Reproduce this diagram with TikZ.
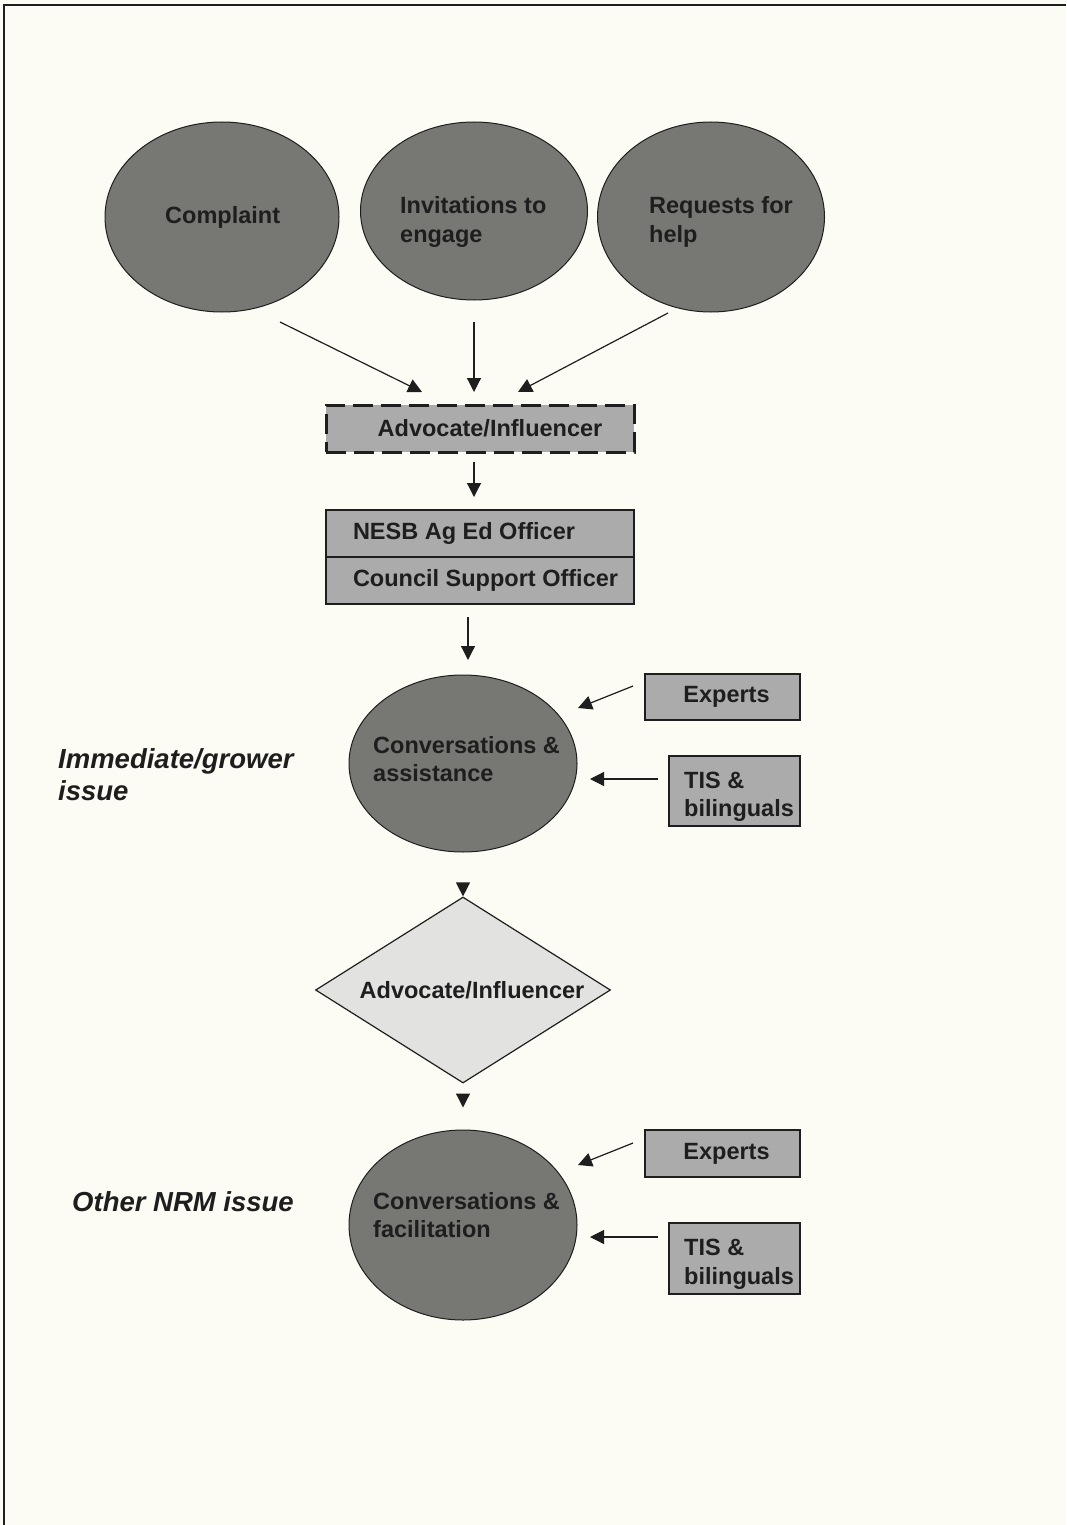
\documentclass[tikz,border=0pt]{standalone}
\usepackage{fontspec}
\setmainfont{Liberation Sans}
\usetikzlibrary{shapes.geometric,arrows.meta}
\definecolor{bg}{HTML}{FCFCF5}
\definecolor{dark}{HTML}{777774}
\definecolor{mid}{HTML}{ABABAB}
\definecolor{light}{HTML}{E2E2E0}
\definecolor{ink}{HTML}{1E1E1E}
\begin{document}
\begin{tikzpicture}[x=1pt,y=-1pt,
  txt/.style={font=\fontsize{23.5}{28}\selectfont\bfseries, text=ink},
  oval/.style={ellipse, draw=ink, line width=1pt, fill=dark, inner sep=0pt},
  ovaltext/.style={txt, align=left, anchor=base west, inner sep=0pt},
  box/.style={rectangle, draw=ink, line width=1.8pt, fill=mid, inner sep=0pt, txt},
  arr/.style={-{Triangle[length=14pt,width=14pt]}, line width=1.2pt, draw=ink},
  side/.style={font=\fontsize{27.5}{32}\selectfont\bfseries\itshape, text=ink, align=left, anchor=base west, inner sep=0pt}]

\fill[bg] (0,0) rectangle (1066,1525);
\useasboundingbox (0,0) rectangle (1066,1525);
\draw[line width=2pt, ink] (4,1525) -- (4,5) -- (1066,5);

% top ovals
\node[oval, minimum width=234pt, minimum height=190pt] (comp) at (222,217) {};
\node[oval, minimum width=227pt, minimum height=178pt] (inv) at (474,211) {};
\node[oval, minimum width=227pt, minimum height=190pt] (req) at (711,217) {};
\node[ovaltext] (compt) at (165,223) {Complaint};
\node[ovaltext] (invt) at (400,214) {Invitations to};
\node[ovaltext] (invt2) at (400,242) {engage};
\node[ovaltext] (reqt) at (649,214) {Requests for};
\node[ovaltext] (reqt2) at (649,242) {help};

% advocate box (dashed)
\node[box, dash pattern=on 20pt off 8pt, line width=3pt, minimum width=308pt, minimum height=47pt] (adv) at (480,428.5) {\hspace*{20pt}Advocate/Influencer};

% officer boxes
\node[box, minimum width=308pt, minimum height=47pt] (nesb) at (480,533.5) {\makebox[254pt][l]{NESB Ag Ed Officer}};
\node[box, minimum width=308pt, minimum height=47pt] (cso) at (480,580.5) {\makebox[254pt][l]{Council Support Officer}};

% first conversation
\node[oval, minimum width=228pt, minimum height=177pt] (conv1) at (463,763.5) {};
\node[ovaltext] (conv1t) at (373,753) {Conversations \&};
\node[ovaltext] (conv1t2) at (373,781) {assistance};
\node[box, minimum width=155pt, minimum height=46pt] (exp1) at (722.5,697) {\hspace*{8pt}Experts};
\node[box, minimum width=131pt, minimum height=70pt] (tis1) at (734.5,791) {};
\node[ovaltext] (tis1t) at (684,788) {TIS \&};
\node[ovaltext] (tis1t2) at (684,816) {bilinguals};

% diamond
\node[diamond, aspect=1.586, draw=ink, line width=1.2pt, fill=light, minimum width=295pt, minimum height=186pt, inner sep=0pt] (dia) at (463,990) {};
\node[txt, inner sep=0pt] (diat) at (472,990) {Advocate/Influencer};

% second conversation
\node[oval, minimum width=228pt, minimum height=190pt] (conv2) at (463,1225) {};
\node[ovaltext] (conv2t) at (373,1209) {Conversations \&};
\node[ovaltext] (conv2t2) at (373,1237) {facilitation};
\node[box, minimum width=155pt, minimum height=47pt] (exp2) at (722.5,1153.5) {\hspace*{8pt}Experts};
\node[box, minimum width=131pt, minimum height=71pt] (tis2) at (734.5,1258.5) {};
\node[ovaltext] (tis2t) at (684,1255) {TIS \&};
\node[ovaltext] (tis2t2) at (684,1284) {bilinguals};

% side labels
\node[side] (lab1) at (58,768) {Immediate/grower};
\node[side] (lab1b) at (58,800) {issue};
\node[side] (lab2) at (72,1211) {Other NRM issue};

% arrow end points
\coordinate (a1s) at (280,322);
\coordinate (a1e) at (422,392);
\coordinate (a2s) at (474,322);
\coordinate (a2e) at (474,392);
\coordinate (a3s) at (668,313);
\coordinate (a3e) at (518,392);
\coordinate (b1s) at (474,462);
\coordinate (b1e) at (474,497);
\coordinate (b2s) at (468,617);
\coordinate (b2e) at (468,660);
\coordinate (e1s) at (633,686);
\coordinate (e1e) at (578,708);
\coordinate (t1s) at (658,779);
\coordinate (t1e) at (590,779);
\coordinate (e2s) at (633,1143);
\coordinate (e2e) at (578,1165);
\coordinate (t2s) at (658,1237);
\coordinate (t2e) at (590,1237);

% connectors
\draw[arr] (a1s) -- (a1e);
\draw[arr] (a2s) -- (a2e);
\draw[arr] (a3s) -- (a3e);
\draw[arr] (b1s) -- (b1e);
\draw[arr] (b2s) -- (b2e);
\draw[arr] (e1s) -- (e1e);
\draw[arr] (t1s) -- (t1e);
\draw[arr] (e2s) -- (e2e);
\draw[arr] (t2s) -- (t2e);
\draw[arr, shorten <=31pt] (conv1.south) -- (dia.north);
\draw[arr, shorten <=10pt, shorten >=22pt] (dia.south) -- (conv2.north);
\end{tikzpicture}
\end{document}
